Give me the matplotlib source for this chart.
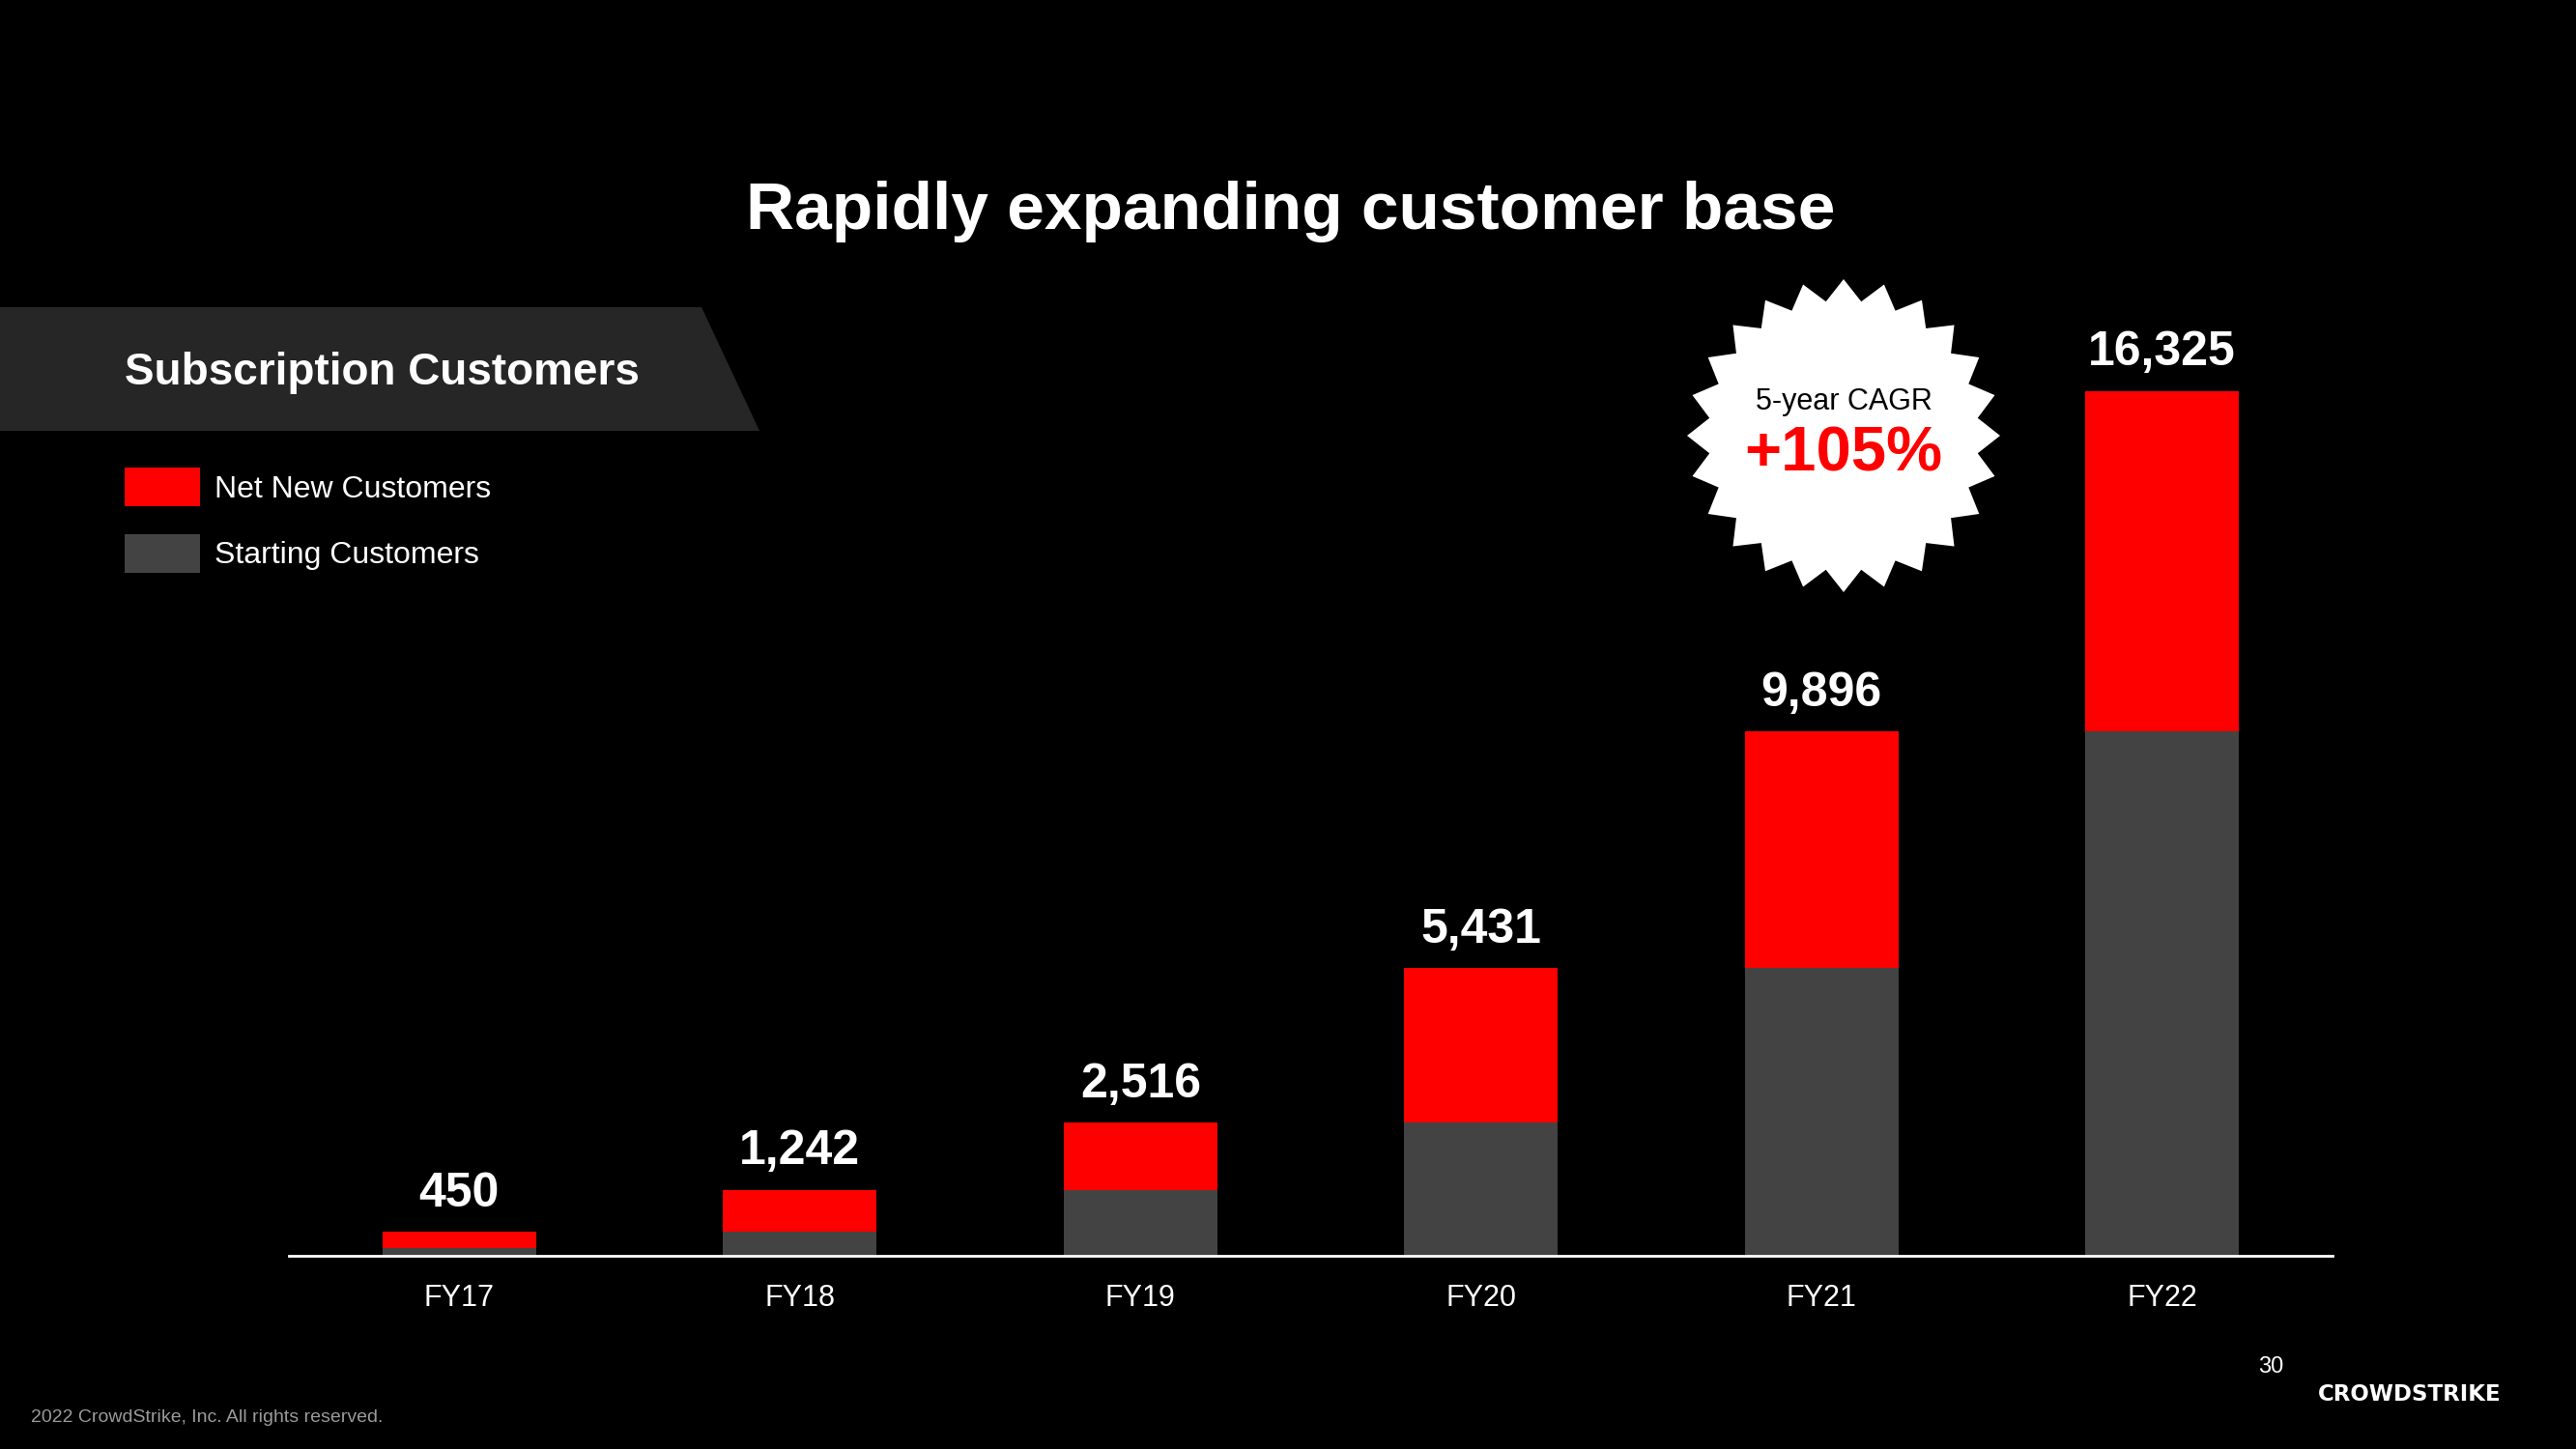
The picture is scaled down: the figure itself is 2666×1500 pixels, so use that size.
import numpy as np
import matplotlib.pyplot as plt
from matplotlib.patches import Polygon

years = ["FY17", "FY18", "FY19", "FY20", "FY21", "FY22"]
totals = [450, 1242, 2516, 5431, 9896, 16325]
starting = [150, 450, 1242, 2516, 5431, 9896]
net_new = [t - s for t, s in zip(totals, starting)]

RED = "#ff0000"
GRAY = "#434343"
FONT = "Liberation Sans"

W, H = 2666, 1500
fig = plt.figure(figsize=(W / 100, H / 100), dpi=100)
fig.patch.set_facecolor("black")

# axes placed in pixel terms: baseline at y=1300, x line 299..2414
ax = fig.add_axes([299 / W, 1 - 1300 / H, (2414 - 299) / W, 987 / H])
ax.set_facecolor("none")
x = np.arange(len(years))
b1 = ax.bar(x, starting, width=0.45, color=GRAY, label="Starting Customers")
b2 = ax.bar(x, net_new, width=0.45, bottom=starting, color=RED, label="Net New Customers")
ax.set_xlim(-0.5, 5.5)
ax.set_ylim(0, 18000)
for s in ["top", "right", "left"]:
    ax.spines[s].set_visible(False)
ax.spines["bottom"].set_color("white")
ax.spines["bottom"].set_linewidth(2)
ax.set_yticks([])
ax.set_xticks(x)
ax.set_xticklabels(years, color="white", fontsize=22, family=FONT)
ax.tick_params(axis="x", length=0, pad=21)

for xi, t in zip(x, totals):
    ax.text(xi, t + 300, f"{t:,}", ha="center", va="bottom", color="white",
            fontsize=36, fontweight="bold", family=FONT)

# title
fig.text(1336 / W, 1 - 219 / H, "Rapidly expanding customer base", ha="center", va="center",
         color="white", fontsize=50, fontweight="bold", family=FONT)

# subtitle banner
banner = Polygon([[0, 1 - 318 / H], [726 / W, 1 - 318 / H], [786 / W, 1 - 446 / H], [0, 1 - 446 / H]],
                 closed=True, transform=fig.transFigure, facecolor="#262626", edgecolor="none")
fig.patches.append(banner)
fig.text(129 / W, 1 - 386 / H, "Subscription Customers", ha="left", va="center",
         color="white", fontsize=33, fontweight="bold", family=FONT)

# legend
leg = fig.legend(handles=[b2, b1], loc="upper left", bbox_to_anchor=(129 / W, 1 - 484 / H),
                 frameon=False, handlelength=2.45, handleheight=1.55,
                 handletextpad=0.45, labelspacing=0.9, borderpad=0, borderaxespad=0,
                 prop={"family": FONT, "size": 23})
for t in leg.get_texts():
    t.set_color("white")

# starburst badge
cx, cy = 1908, 451
n = 24
ang = np.pi / 2 + np.arange(2 * n) * np.pi / n
rad = np.where(np.arange(2 * n) % 2 == 0, 162, 140)
pts = [((cx + r * np.cos(a)) / W, 1 - (cy - r * np.sin(a)) / H) for r, a in zip(rad, ang)]
star = Polygon(pts, closed=True, transform=fig.transFigure, facecolor="white", edgecolor="none")
fig.patches.append(star)
fig.text(cx / W, 1 - 416 / H, "5-year CAGR", ha="center", va="center", color="black",
         fontsize=22, family=FONT)
fig.text(cx / W, 1 - 470 / H, "+105%", ha="center", va="center", color=RED,
         fontsize=47, fontweight="bold", family=FONT)

# footer
fig.text(32 / W, 1 - 1467 / H, "2022 CrowdStrike, Inc. All rights reserved.", ha="left", va="center",
         color="#9a9a9a", fontsize=14, family=FONT)
fig.text(2350 / W, 1 - 1415 / H, "30", ha="center", va="center", color="white",
         fontsize=17, family=FONT)
fig.text(2494 / W, 1 - 1443 / H, "CROWDSTRIKE", ha="center", va="center", color="white",
         fontsize=16.5, fontweight="bold", family="DejaVu Sans")

fig.savefig("out.png", dpi=100, facecolor="black")
